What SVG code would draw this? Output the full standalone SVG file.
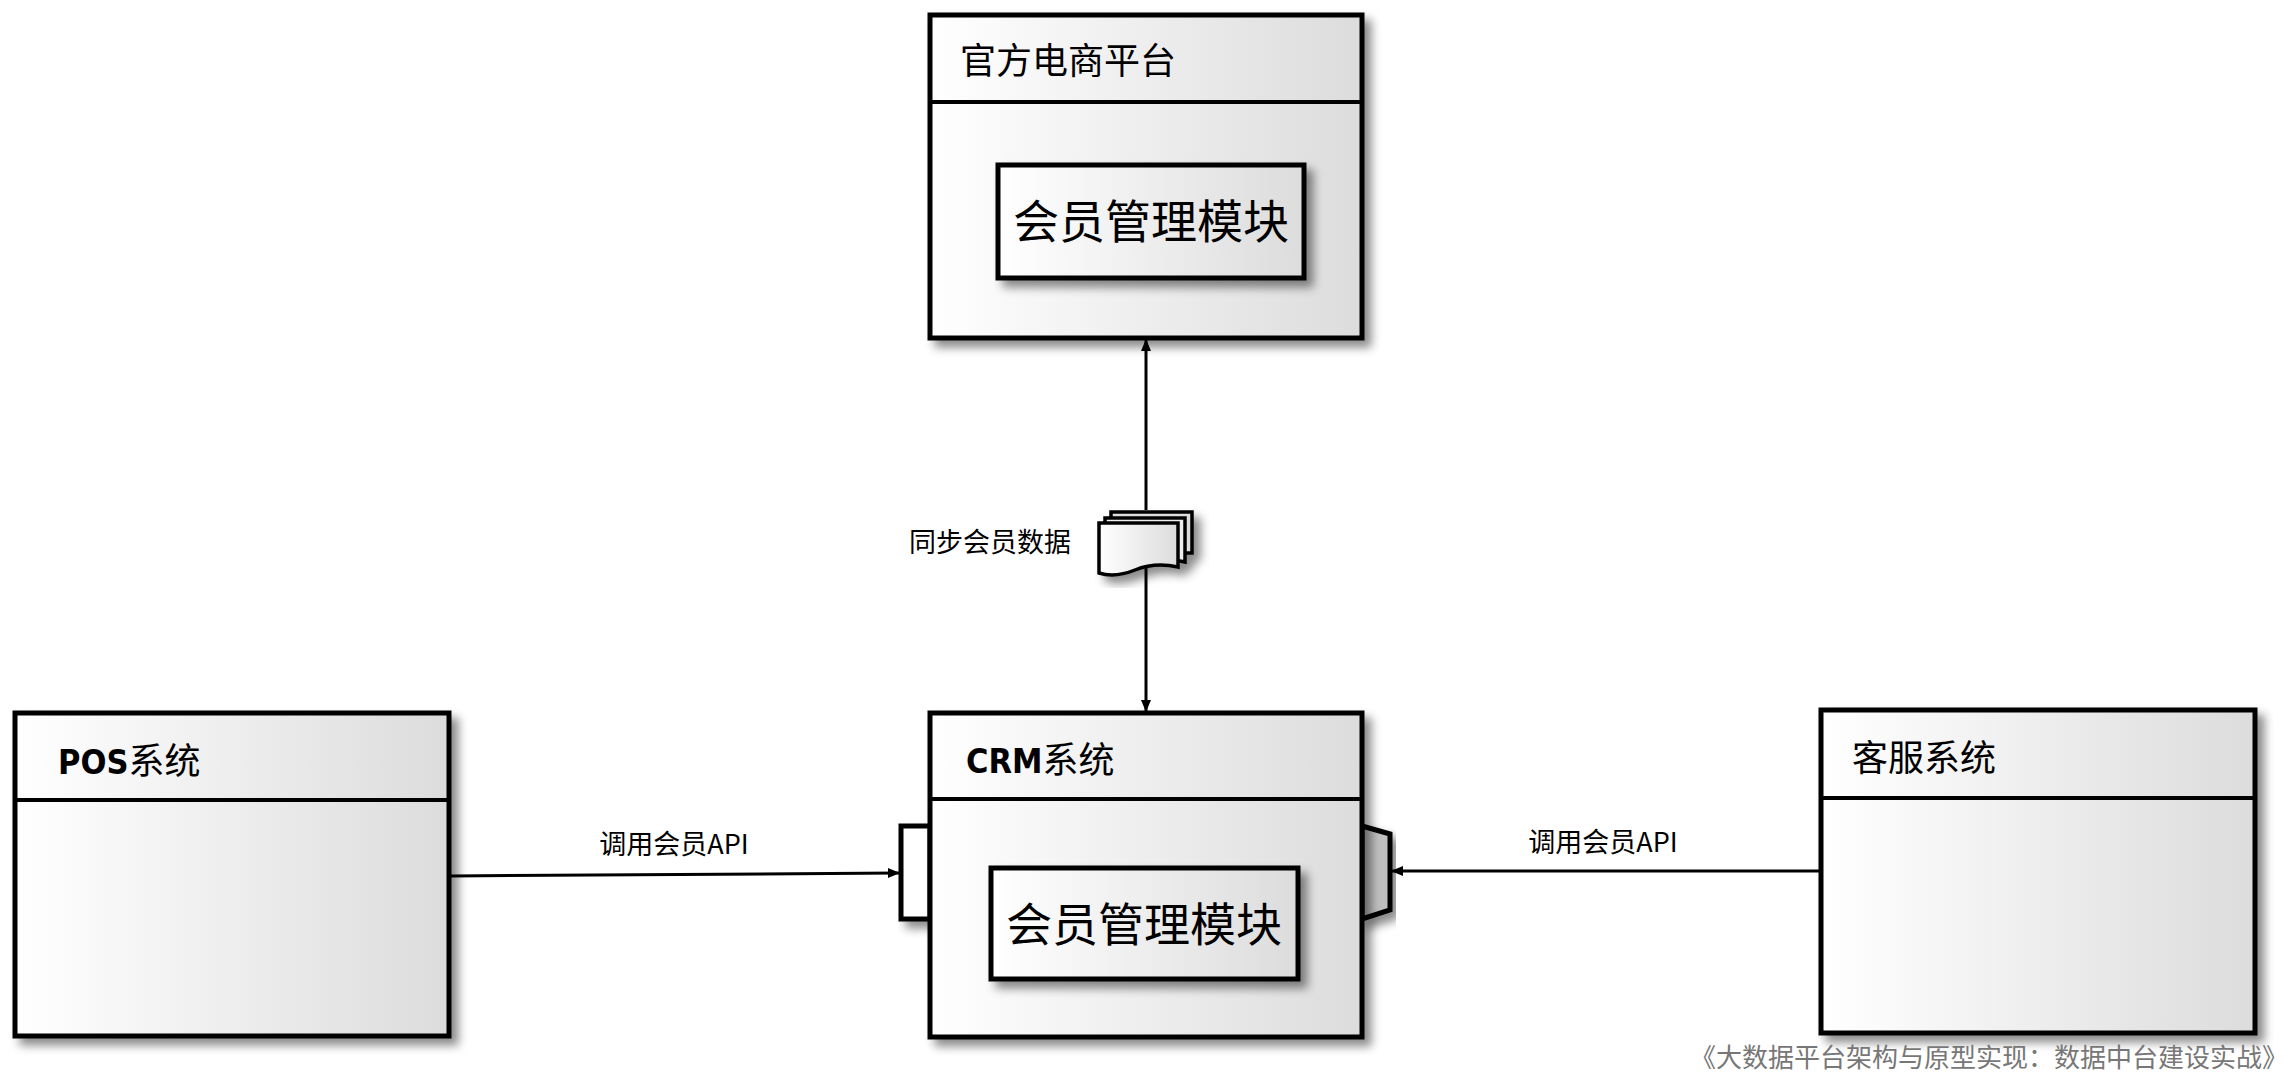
<svg xmlns="http://www.w3.org/2000/svg" width="2292" height="1073" viewBox="0 0 2292 1073">
<style>
.box{fill:url(#g);stroke:#000;stroke-width:5;filter:url(#sh)}
.ln{stroke:#000;stroke-width:4;fill:none}
.t{font-family:"Noto Sans CJK SC","DejaVu Sans",sans-serif;fill:#000}
.b{font-family:"DejaVu Sans","Noto Sans CJK SC",sans-serif;font-weight:bold;font-stretch:condensed}
.c{stroke:#000;stroke-width:3;fill:none}
</style>
<defs>
<linearGradient id="g" x1="0" y1="0" x2="1" y2="0"><stop offset="0" stop-color="#fff"/><stop offset="1" stop-color="#dcdcdc"/></linearGradient>
<filter id="sh" x="-10%" y="-10%" width="130%" height="130%"><feDropShadow dx="7" dy="7" stdDeviation="5" flood-color="#000" flood-opacity="0.45"/></filter>
<marker id="a" markerWidth="12" markerHeight="12" refX="11" refY="6" orient="auto" markerUnits="userSpaceOnUse"><path d="M0,1 L12,6 L0,11 Z" fill="#000"/></marker>
</defs>
<g id="ecom">
<rect class="box" x="930" y="15" width="432" height="323"/>
<line class="ln" x1="930" y1="102" x2="1362" y2="102"/>
<text class="t" x="960" y="74" font-size="36">官方电商平台</text>
<rect class="box" x="998" y="165" width="306" height="113"/>
<text class="t" x="1151" y="238" font-size="46" text-anchor="middle">会员管理模块</text>
</g>
<g id="crm">
<rect x="901" y="826" width="29" height="93" fill="#fff" stroke="#000" stroke-width="5" filter="url(#sh)"/>
<polygon points="1362,826 1390,834 1390,910 1362,919" fill="#c0c0c0" stroke="#000" stroke-width="5" filter="url(#sh)"/>
<rect class="box" x="930" y="713" width="432" height="324"/>
<line class="ln" x1="930" y1="799" x2="1362" y2="799"/>
<text class="b" x="966" y="773" font-size="34">CRM<tspan class="t" font-weight="normal" font-size="36">系统</tspan></text>
<rect class="box" x="991" y="868" width="307" height="111"/>
<text class="t" x="1144" y="941" font-size="46" text-anchor="middle">会员管理模块</text>
</g>
<g id="pos">
<rect class="box" x="15" y="713" width="434" height="323"/>
<line class="ln" x1="15" y1="800" x2="449" y2="800"/>
<text class="b" x="58" y="774" font-size="34">POS<tspan class="t" font-weight="normal" font-size="36">系统</tspan></text>
</g>
<g id="kefu">
<rect class="box" x="1821" y="710" width="434" height="323"/>
<line class="ln" x1="1821" y1="798" x2="2255" y2="798"/>
<text class="t" x="1852" y="771" font-size="36">客服系统</text>
</g>
<g id="connectors">
<line class="c" x1="1146" y1="510" x2="1146" y2="340" marker-end="url(#a)"/>
<line class="c" x1="1146" y1="560" x2="1146" y2="711" marker-end="url(#a)"/>
<line class="c" x1="451" y1="876" x2="899" y2="873" marker-end="url(#a)"/>
<line class="c" x1="1821" y1="871" x2="1392" y2="871" marker-end="url(#a)"/>
<g filter="url(#sh)" stroke="#000" stroke-width="3.5">
<path d="M1111,512 H1192 V553 H1111 Z" fill="#ddd"/>
<path d="M1105,518 H1185 V562 Q1160,556 1140,566 Q1120,574 1105,568 Z" fill="#eee"/>
<path d="M1099,523 H1178 V567 Q1155,562 1135,570 Q1115,578 1099,573 Z" fill="url(#g)"/>
</g>
<text class="t" x="990" y="552" font-size="27" text-anchor="middle">同步会员数据</text>
<text class="t" x="674" y="854" font-size="27" text-anchor="middle">调用会员API</text>
<text class="t" x="1603" y="852" font-size="27" text-anchor="middle">调用会员API</text>
</g>
<text class="t" x="2288" y="1067" font-size="26" text-anchor="end" style="fill:#777">《大数据平台架构与原型实现：数据中台建设实战》</text>
</svg>
